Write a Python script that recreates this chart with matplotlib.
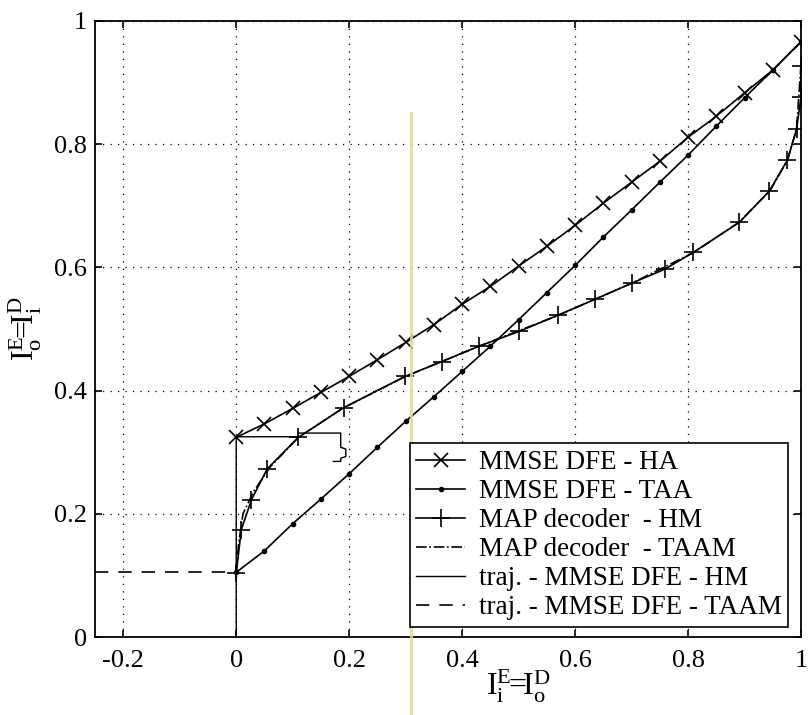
import numpy as np
import matplotlib
matplotlib.use('Agg')
import matplotlib.pyplot as plt

from matplotlib import rc
rc('font', **{'family': 'serif', 'serif': ['Liberation Serif'], 'size': 19})
rc('mathtext', fontset='custom', rm='Liberation Serif', it='Liberation Serif')

# MMSE DFE - HA  (x markers)
ha_x = [0.0, 0.05, 0.10, 0.15, 0.20, 0.25, 0.30, 0.35, 0.40, 0.45, 0.50,
        0.55, 0.60, 0.65, 0.70, 0.75, 0.80, 0.85, 0.90, 0.95, 1.0]
ha_y = [0.324, 0.346, 0.371, 0.397, 0.423, 0.450, 0.478, 0.507, 0.540, 0.569, 0.602,
        0.634, 0.668, 0.704, 0.738, 0.772, 0.811, 0.845, 0.883, 0.920, 0.966]

# MMSE DFE - TAA  (dot markers)
taa_x = ha_x
taa_y = [0.105, 0.140, 0.184, 0.224, 0.265, 0.308, 0.350, 0.390, 0.431, 0.472, 0.515,
         0.559, 0.603, 0.649, 0.693, 0.738, 0.782, 0.829, 0.875, 0.920, 0.966]

# MAP decoder - HM  (+ markers)
hm_x = [0.0, 0.009, 0.027, 0.055, 0.110, 0.190, 0.299, 0.364, 0.430, 0.501, 0.569,
        0.635, 0.700, 0.759, 0.809, 0.891, 0.944, 0.976, 0.992, 1.0, 1.0]
hm_y = [0.104, 0.174, 0.223, 0.273, 0.324, 0.372, 0.423, 0.447, 0.472, 0.496, 0.522,
        0.548, 0.574, 0.597, 0.624, 0.673, 0.724, 0.774, 0.824, 0.876, 0.927]

# MAP decoder - TAAM (dash-dot)
taam_x = [0.0, 0.004, 0.012, 0.030, 0.060, 0.110, 0.190, 0.300, 0.430, 0.570,
          0.700, 0.810, 0.890, 0.945, 0.976, 0.992, 1.0]
taam_y = [0.105, 0.150, 0.200, 0.235, 0.276, 0.324, 0.372, 0.423, 0.472, 0.522,
          0.574, 0.624, 0.673, 0.724, 0.774, 0.824, 0.93]

# trajectories
traj_hm_x = [0.0, 0.0, 0.110, 0.110, 0.185, 0.185, 0.194, 0.194, 0.185, 0.185, 0.172]
traj_hm_y = [0.0, 0.325, 0.325, 0.331, 0.331, 0.308, 0.305, 0.293, 0.290, 0.285, 0.285]
traj_taam_x = [-0.25, 0.0]
traj_taam_y = [0.106, 0.106]

# highlighter stroke across the page
mark_x = [0.31, 0.31]
mark_y = [0.85, -0.13]

fig = plt.figure(figsize=(8.08, 7.15), dpi=100)
ax = fig.add_axes([0.1176, 0.109, 0.8738, 0.862])

ax.plot(ha_x, ha_y, color='k', lw=1.2, marker='x', ms=10, mew=1.2,
        label='MMSE DFE - HA')
ax.plot(taa_x, taa_y, color='k', lw=1.2, marker='.', ms=6,
        label='MMSE DFE - TAA')
ax.plot(hm_x, hm_y, color='k', lw=1.2, marker='+', ms=13, mew=1.2,
        label='MAP decoder  - HM')
ax.plot(taam_x, taam_y, color='k', lw=1.2, ls='-.',
        label='MAP decoder  - TAAM')
ax.plot(traj_hm_x, traj_hm_y, color='k', lw=1.0,
        label='traj. - MMSE DFE - HM')
ax.plot(traj_taam_x, traj_taam_y, color='k', lw=1.2, ls=(0, (8, 6)),
        label='traj. - MMSE DFE - TAAM')

ax.plot(mark_x, mark_y, color='#dedb95', lw=2.2, alpha=0.85, clip_on=False, zorder=5)

ax.set_xlim(-0.25, 1.0)
ax.set_ylim(0, 1)
ax.set_xticks([-0.2, 0, 0.2, 0.4, 0.6, 0.8, 1])
ax.set_xticklabels(['-0.2', '0', '0.2', '0.4', '0.6', '0.8', '1'])
ax.set_yticks([0, 0.2, 0.4, 0.6, 0.8, 1])
ax.set_yticklabels(['0', '0.2', '0.4', '0.6', '0.8', '1'])
ax.tick_params(direction='in', top=True, right=True, length=5, width=1.2)
ax.tick_params(axis='x', pad=9)
ax.tick_params(axis='y', pad=6)
for s in ax.spines.values():
    s.set_linewidth(1.3)
ax.grid(True, color='k', ls=(0, (1, 5)), lw=0.9)

ax.set_xlabel(r'$\mathrm{I}_{\mathrm{i}}^{\mathrm{E}}\!\!=\!\!\mathrm{I}_{\mathrm{o}}^{\mathrm{D}}$', fontsize=23)
ax.xaxis.set_label_coords(0.60, -0.05)
ax.set_ylabel(r'$\mathrm{I}_{\mathrm{o}}^{\mathrm{E}}\!\!=\!\!\mathrm{I}_{\mathrm{i}}^{\mathrm{D}}$', fontsize=23)
ax.yaxis.set_label_coords(-0.072, 0.50)

leg = ax.legend(loc='lower right', bbox_to_anchor=(0.982, 0.016), fontsize=19.5,
                frameon=True, fancybox=False, edgecolor='k', framealpha=1,
                handlelength=1.8, handletextpad=0.5, labelspacing=0.15,
                borderpad=0.25, borderaxespad=0)
leg.get_frame().set_linewidth(1.2)

fig.savefig('out.png', dpi=100)
